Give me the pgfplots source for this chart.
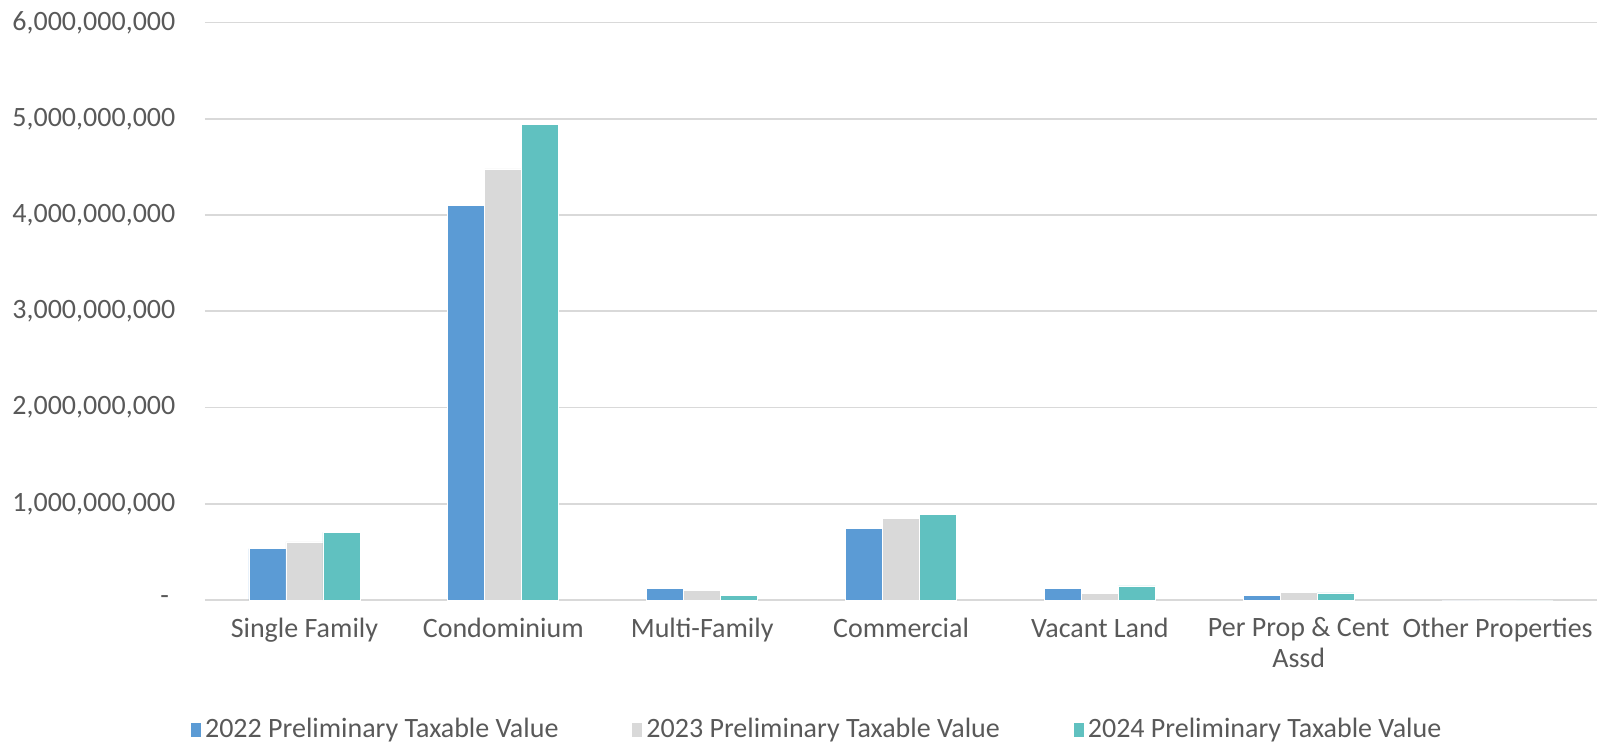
\documentclass[border=0pt]{standalone}
\usepackage{pgfplots}
\pgfplotsset{compat=1.18}
\usepackage{fontspec}
\setmainfont{Carlito}
\definecolor{cBlue}{HTML}{5B9BD5}
\definecolor{cGray}{HTML}{D9D9D9}
\definecolor{cTeal}{HTML}{60C1C0}
\definecolor{txt}{HTML}{595959}
\definecolor{gridc}{HTML}{D9D9D9}
\begin{document}
\fontsize{14pt}{16pt}\selectfont
\begin{tikzpicture}
\path[use as bounding box] (-102.5pt,-72pt) rectangle (700pt,300pt);
\begin{axis}[
  at={(0,0)}, anchor=south west,
  scale only axis, width=696pt, height=288.75pt,
  ybar=0pt, bar width=18.5pt,
  xmin=-0.5, xmax=6.5, ymin=0, ymax=6e9,
  xtick={0,...,6},
  xticklabels={Single Family, Condominium, Multi-Family, Commercial, Vacant Land, {Per Prop \& Cent\\Assd}, Other Properties},
  xticklabel style={align=center, text=txt, font=\fontsize{14pt}{15.5pt}\selectfont, yshift=-4pt},
  ytick={0,1e9,2e9,3e9,4e9,5e9,6e9},
  scaled y ticks=false,
  yticklabels={{-\ \ },{1,000,000,000},{2,000,000,000},{3,000,000,000},{4,000,000,000},{5,000,000,000},{6,000,000,000}},
  yticklabel style={text=txt, font=\fontsize{14pt}{15.5pt}\selectfont, xshift=-10pt},
  major tick length=0pt,
  xtick style={draw=none}, ytick style={draw=none},
  xmajorgrids=false, ymajorgrids=true,
  major grid style={draw=gridc, line width=0.8pt},
  axis line style={draw=none},
  legend columns=3,
  legend style={at={(0.4405,-0.225)}, anchor=center, draw=none, fill=none,
    font=\fontsize{14pt}{15.5pt}\selectfont, text=txt,
    /tikz/every even column/.append style={column sep=35pt}},
  legend image code/.code={\fill[#1,draw=none] (0pt,-3.5pt) rectangle (5pt,3.5pt);},
]
\addplot[fill=cBlue, draw=white, line width=0.3pt] coordinates {(0,0.533e9) (1,4.10e9) (2,0.119e9) (3,0.747e9) (4,0.119e9) (5,0.049e9) (6,0)};
\addplot[fill=cGray, draw=white, line width=0.3pt] coordinates {(0,0.604e9) (1,4.48e9) (2,0.100e9) (3,0.846e9) (4,0.070e9) (5,0.077e9) (6,0)};
\addplot[fill=cTeal, draw=white, line width=0.3pt] coordinates {(0,0.702e9) (1,4.94e9) (2,0.049e9) (3,0.891e9) (4,0.147e9) (5,0.074e9) (6,0)};
\legend{2022 Preliminary Taxable Value, 2023 Preliminary Taxable Value, 2024 Preliminary Taxable Value}
\end{axis}
\end{tikzpicture}
\end{document}
